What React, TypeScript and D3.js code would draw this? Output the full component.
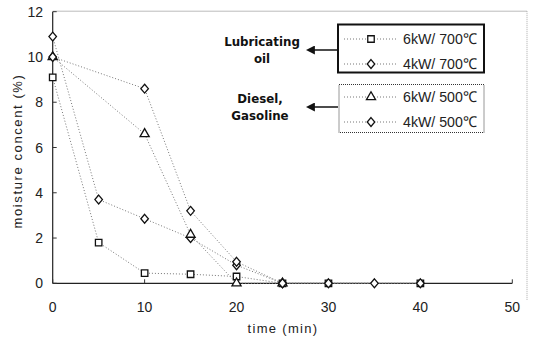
import React, { useEffect, useRef } from "react";
import * as d3 from "d3";

// time (min) and moisture content (%) for each run
const timeA = [0, 5, 10, 15, 20, 25, 30, 40];
const sq6kw700 = [9.1, 1.8, 0.45, 0.4, 0.3, 0, 0, 0];

const timeB = [0, 5, 10, 15, 20, 25, 30, 40];
const dia4kw700 = [10.9, 3.7, 2.85, 2.0, 0.8, 0, 0, 0];

const timeC = [0, 10, 15, 20, 25];
const tri6kw500 = [10, 6.6, 2.15, 0, 0];

const timeD = [0, 10, 15, 20, 25, 35];
const dia4kw500 = [10, 8.6, 3.2, 0.95, 0, 0];

const xTicks = [0, 10, 20, 30, 40, 50];
const yTicks = [0, 2, 4, 6, 8, 10, 12];

const legendLabels = ["6kW/ 700℃", "4kW/ 700℃", "6kW/ 500℃", "4kW/ 500℃"];

// wider diamond than d3's default, closer to the Excel marker
const wideDiamond = {
  draw(ctx: any, size: number) {
    const h = Math.sqrt(size) * 0.72;
    const w = h * 0.85;
    ctx.moveTo(0, -h);
    ctx.lineTo(w, 0);
    ctx.lineTo(0, h);
    ctx.lineTo(-w, 0);
    ctx.closePath();
  },
};

const App = () => {
  const ref = useRef<SVGSVGElement>(null);

  useEffect(() => {
    const svg = d3.select(ref.current);
    svg.selectAll("*").remove();

    const x = d3.scaleLinear().domain([0, 50]).range([52.7, 512.3]);
    const y = d3.scaleLinear().domain([0, 12]).range([283.3, 11.7]);

    const axisFont = "'Liberation Sans', Arial, sans-serif";

    // faint outer frame
    svg.append("line")
      .attr("x1", 52.7).attr("x2", 527).attr("y1", 11.2).attr("y2", 11.2)
      .attr("stroke", "#bbb").attr("stroke-width", 1);
    svg.append("line")
      .attr("x1", 527).attr("x2", 527).attr("y1", 11.2).attr("y2", 300)
      .attr("stroke", "#aaa").attr("stroke-width", 1).attr("stroke-dasharray", "1,1");

    // axes
    svg.append("line")
      .attr("x1", x(0)).attr("x2", x(0)).attr("y1", y(0)).attr("y2", y(12))
      .attr("stroke", "#222").attr("stroke-width", 1.2);
    svg.append("line")
      .attr("x1", x(0)).attr("x2", x(50)).attr("y1", y(0)).attr("y2", y(0))
      .attr("stroke", "#222").attr("stroke-width", 1.2);

    svg.selectAll(".ytick")
      .data(yTicks)
      .enter()
      .append("line")
      .attr("x1", x(0)).attr("x2", x(0) + 4)
      .attr("y1", d => y(d)).attr("y2", d => y(d))
      .attr("stroke", "#333");
    svg.selectAll(".xtick")
      .data(xTicks)
      .enter()
      .append("line")
      .attr("x1", d => x(d)).attr("x2", d => x(d))
      .attr("y1", y(0)).attr("y2", y(0) - 4)
      .attr("stroke", "#333");

    svg.selectAll(".ylabel")
      .data(yTicks)
      .enter()
      .append("text")
      .attr("x", 43)
      .attr("y", d => y(d))
      .attr("dy", "0.36em")
      .attr("text-anchor", "end")
      .attr("font-family", axisFont)
      .attr("font-size", 14)
      .attr("fill", "#222")
      .text(d => d);

    svg.selectAll(".xlabel")
      .data(xTicks)
      .enter()
      .append("text")
      .attr("x", d => x(d))
      .attr("y", 307)
      .attr("dy", "0.36em")
      .attr("text-anchor", "middle")
      .attr("font-family", axisFont)
      .attr("font-size", 14)
      .attr("fill", "#222")
      .text(d => d);

    svg.append("text")
      .attr("x", 283).attr("y", 328).attr("dy", "0.36em")
      .attr("text-anchor", "middle")
      .attr("font-family", axisFont).attr("font-size", 13)
      .attr("letter-spacing", 1.3)
      .attr("fill", "#222")
      .text("time (min)");

    svg.append("text")
      .attr("transform", "translate(17,151) rotate(-90)")
      .attr("dy", "0.36em")
      .attr("text-anchor", "middle")
      .attr("font-family", axisFont).attr("font-size", 13)
      .attr("letter-spacing", 1.6)
      .attr("fill", "#222")
      .text("moisture concent (%)");

    const series = [
      { t: timeA, v: sq6kw700, sym: d3.symbolSquare, size: 42 },
      { t: timeB, v: dia4kw700, sym: wideDiamond, size: 38 },
      { t: timeC, v: tri6kw500, sym: d3.symbolTriangle, size: 36 },
      { t: timeD, v: dia4kw500, sym: wideDiamond, size: 38 },
    ];

    const line = d3.line<[number, number]>()
      .x(d => x(d[0]))
      .y(d => y(d[1]));

    series.forEach(s => {
      const pts: [number, number][] = s.t.map((t, i) => [t, s.v[i]]);
      svg.append("path")
        .attr("d", line(pts))
        .attr("fill", "none")
        .attr("stroke", "#777")
        .attr("stroke-width", 1)
        .attr("stroke-dasharray", "1,2");
    });

    series.forEach(s => {
      const pts: [number, number][] = s.t.map((t, i) => [t, s.v[i]]);
      svg.selectAll(null)
        .data(pts)
        .enter()
        .append("path")
        .attr("d", d3.symbol().type(s.sym as any).size(s.size)())
        .attr("transform", d => `translate(${x(d[0])},${y(d[1])})`)
        .attr("fill", "#fff")
        .attr("stroke", "#111")
        .attr("stroke-width", 1.3);
    });

    // legend boxes
    svg.append("rect")
      .attr("x", 338).attr("y", 24.5).attr("width", 146).attr("height", 48)
      .attr("fill", "#fff").attr("stroke", "#111").attr("stroke-width", 2);
    svg.append("rect")
      .attr("x", 339).attr("y", 84.5).attr("width", 145).attr("height", 48)
      .attr("fill", "#fff").attr("stroke", "#333").attr("stroke-width", 1)
      .attr("stroke-dasharray", "1,1");

    const legendY = [39, 64, 97, 122];
    series.forEach((s, i) => {
      const ly = legendY[i];
      svg.append("line")
        .attr("x1", 344).attr("x2", 398).attr("y1", ly).attr("y2", ly)
        .attr("stroke", "#777").attr("stroke-dasharray", "1,2");
      svg.append("path")
        .attr("d", d3.symbol().type(s.sym as any).size(s.size)())
        .attr("transform", `translate(371,${ly})`)
        .attr("fill", "#fff").attr("stroke", "#111").attr("stroke-width", 1.3);
      svg.append("text")
        .attr("x", 403).attr("y", ly).attr("dy", "0.36em")
        .attr("font-family", axisFont)
        .attr("font-size", 15)
        .attr("textLength", 74)
        .attr("lengthAdjust", "spacingAndGlyphs")
        .attr("fill", "#222")
        .text(legendLabels[i]);
    });

    // group annotations with arrows
    const defs = svg.append("defs");
    defs.append("marker")
      .attr("id", "arrow")
      .attr("viewBox", "0 0 10 10")
      .attr("refX", 1).attr("refY", 5)
      .attr("markerWidth", 6).attr("markerHeight", 6)
      .attr("orient", "auto-start-reverse")
      .append("path")
      .attr("d", "M0,0 L10,5 L0,10 z")
      .attr("fill", "#111");

    const notes = [
      { lines: ["Lubricating", "oil"], cy: 50, cx: 262 },
      { lines: ["Diesel,", "Gasoline"], cy: 107, cx: 260 },
    ];
    notes.forEach(n => {
      svg.append("line")
        .attr("x1", 338).attr("x2", 314).attr("y1", n.cy).attr("y2", n.cy)
        .attr("stroke", "#111").attr("stroke-width", 1.5)
        .attr("marker-end", "url(#arrow)");
      n.lines.forEach((t, j) => {
        svg.append("text")
          .attr("x", n.cx).attr("y", n.cy - 8 + j * 17).attr("dy", "0.36em")
          .attr("text-anchor", "middle")
          .attr("font-family", "'DejaVu Sans', sans-serif")
          .attr("font-weight", "bold")
          .attr("font-size", 11.8)
          .attr("fill", "#111")
          .text(t);
      });
    });
  }, []);

  return (
    <svg
      ref={ref}
      width={536}
      height={337}
      style={{ position: "absolute", left: 0, top: 0, background: "#fff" }}
    ></svg>
  );
};

export default App;
